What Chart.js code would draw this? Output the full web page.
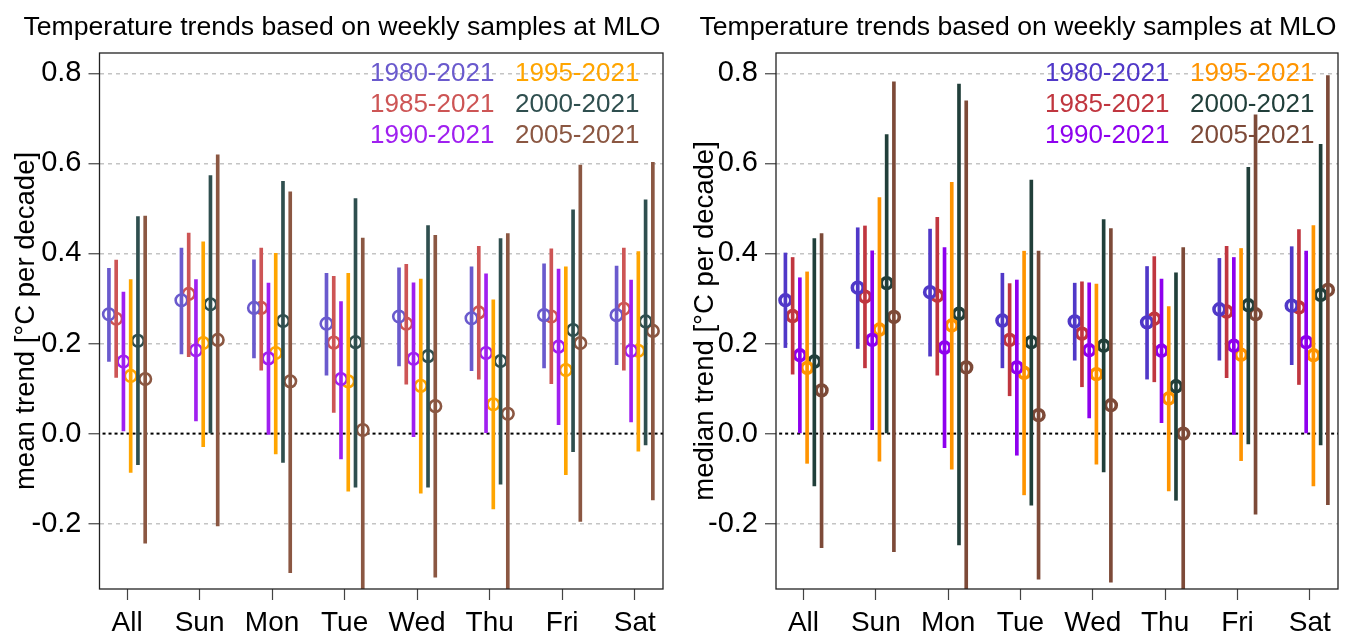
<!DOCTYPE html>
<html>
<head>
<meta charset="utf-8">
<script src="https://cdn.jsdelivr.net/npm/chart.js@4.4.0/dist/chart.umd.min.js"></script>
<style>
  body { margin: 0; background: #fff; }
  .panel { position: absolute; top: 0; height: 639px; }
</style>
</head>
<body>
<div class="panel" style="left:0;width:679px"><canvas id="meanChart"></canvas></div>
<div class="panel" style="left:679px;width:680px"><canvas id="medianChart"></canvas></div>
<script>
const days = ["All", "Sun", "Mon", "Tue", "Wed", "Thu", "Fri", "Sat"];
const periods = ["1980-2021", "1985-2021", "1990-2021", "1995-2021", "2000-2021", "2005-2021"];
const yTicks = [-0.2, 0.0, 0.2, 0.4, 0.6, 0.8];
const chartTitle = "Temperature trends based on weekly samples at MLO";

// one row per period, one value per day (All, Sun..Sat)
const meanTrend = [
  [0.265, 0.296, 0.279, 0.244, 0.260, 0.256, 0.263, 0.263],
  [0.255, 0.310, 0.279, 0.202, 0.244, 0.269, 0.260, 0.277],
  [0.160, 0.185, 0.167, 0.121, 0.166, 0.179, 0.193, 0.184],
  [0.128, 0.201, 0.179, 0.116, 0.106, 0.065, 0.141, 0.184],
  [0.206, 0.287, 0.250, 0.203, 0.172, 0.161, 0.230, 0.249],
  [0.121, 0.208, 0.116, 0.008, 0.061, 0.044, 0.201, 0.228]
];
const meanLow = [
  [0.160, 0.177, 0.168, 0.130, 0.150, 0.140, 0.146, 0.153],
  [0.125, 0.171, 0.141, 0.047, 0.110, 0.121, 0.111, 0.141],
  [0.006, 0.028, -0.002, -0.056, -0.007, 0.002, 0.020, 0.026],
  [-0.086, -0.029, -0.045, -0.128, -0.132, -0.167, -0.091, -0.039],
  [-0.069, 0.000, -0.064, -0.119, -0.119, -0.112, -0.040, -0.025],
  [-0.243, -0.205, -0.309, -0.400, -0.319, -0.400, -0.195, -0.147]
];
const meanHigh = [
  [0.367, 0.412, 0.386, 0.356, 0.368, 0.370, 0.377, 0.372],
  [0.385, 0.445, 0.412, 0.349, 0.376, 0.416, 0.410, 0.412],
  [0.314, 0.342, 0.334, 0.293, 0.335, 0.355, 0.365, 0.341],
  [0.342, 0.426, 0.400, 0.356, 0.343, 0.297, 0.370, 0.404],
  [0.482, 0.573, 0.560, 0.522, 0.462, 0.433, 0.497, 0.519],
  [0.483, 0.619, 0.537, 0.434, 0.440, 0.444, 0.596, 0.602]
];

const medianTrend = [
  [0.296, 0.324, 0.314, 0.251, 0.249, 0.247, 0.276, 0.284],
  [0.261, 0.304, 0.306, 0.208, 0.222, 0.255, 0.271, 0.280],
  [0.174, 0.208, 0.191, 0.147, 0.185, 0.184, 0.195, 0.203],
  [0.146, 0.231, 0.240, 0.135, 0.132, 0.078, 0.175, 0.174],
  [0.160, 0.334, 0.266, 0.203, 0.195, 0.105, 0.285, 0.308],
  [0.096, 0.259, 0.147, 0.041, 0.063, 0.000, 0.265, 0.319]
];
const medianLow = [
  [0.191, 0.189, 0.172, 0.146, 0.163, 0.121, 0.163, 0.153],
  [0.132, 0.146, 0.130, 0.084, 0.104, 0.115, 0.124, 0.109],
  [0.000, 0.009, -0.031, -0.048, 0.035, 0.024, -0.002, 0.000],
  [-0.066, -0.061, -0.079, -0.136, -0.068, -0.127, -0.060, -0.116],
  [-0.116, 0.000, -0.247, -0.159, -0.085, -0.148, -0.023, -0.025],
  [-0.253, -0.262, -0.400, -0.323, -0.330, -0.400, -0.179, -0.158]
];
const medianHigh = [
  [0.401, 0.457, 0.454, 0.356, 0.334, 0.371, 0.389, 0.415],
  [0.391, 0.461, 0.480, 0.333, 0.337, 0.393, 0.416, 0.453],
  [0.346, 0.406, 0.413, 0.341, 0.335, 0.343, 0.391, 0.405],
  [0.359, 0.524, 0.558, 0.405, 0.332, 0.282, 0.411, 0.462],
  [0.433, 0.664, 0.776, 0.563, 0.475, 0.357, 0.591, 0.642],
  [0.444, 0.781, 0.739, 0.405, 0.455, 0.413, 0.708, 0.795]
];

const meanColors = ["#6a5acd", "#cd5555", "#a020f0", "#ffa500", "#2f4f4f", "#8b5742"];
const medianColors = ["#5038c8", "#c0363f", "#8e00ee", "#ff9400", "#213f3a", "#7d4a38"];

const FONT = "'Liberation Sans', Arial, sans-serif";
Chart.defaults.font.family = FONT;
Chart.defaults.color = "#000";

// title over each panel + colored period names in the top right corner
const panelText = {
  id: "panelText",
  afterDraw(chart, args, opts) {
    const { ctx, chartArea } = chart;
    ctx.save();
    ctx.fillStyle = "#000";
    ctx.font = "26.6px " + FONT;
    ctx.textAlign = "center";
    ctx.textBaseline = "middle";
    ctx.fillText(chartTitle, opts.titleX, 28);

    ctx.font = "26px " + FONT;
    ctx.textAlign = "left";
    periods.forEach((txt, i) => {
      const col = Math.floor(i / 3), row = i % 3;
      ctx.fillStyle = opts.colors[i];
      ctx.fillText(txt, chartArea.right - (col ? 148 : 293), chartArea.top + 21 + row * 31);
    });
    ctx.restore();
  }
};

const boxBorder = {
  id: "boxBorder",
  afterDatasetsDraw(chart) {
    const { ctx, chartArea } = chart;
    ctx.save();
    ctx.strokeStyle = "#222";
    ctx.lineWidth = 1.3;
    ctx.strokeRect(chartArea.left, chartArea.top, chartArea.right - chartArea.left, chartArea.bottom - chartArea.top);
    ctx.restore();
  }
};

function makeChart(id, trend, low, high, colors, yLabel, yWidth, padRight, radius, ring, titleX) {
  const spread = [-0.25, -0.15, -0.05, 0.05, 0.15, 0.25];
  const datasets = [{
    type: "line",
    data: [{ x: 0, y: 0 }, { x: 10, y: 0 }],
    borderColor: "#000",
    borderWidth: 2,
    borderDash: [3, 3],
    pointRadius: 0,
    order: 3
  }];
  periods.forEach((p, k) => {
    datasets.push({
      type: "bar",
      label: p,
      data: days.map((d, i) => ({ x: i + 1 + spread[k], y: [low[k][i], high[k][i]] })),
      backgroundColor: colors[k],
      barThickness: 3,
      grouped: false,
      order: 1
    });
    datasets.push({
      type: "scatter",
      label: p,
      data: days.map((d, i) => ({ x: i + 1 + spread[k], y: trend[k][i] })),
      borderColor: colors[k],
      backgroundColor: "#fff",
      pointRadius: radius,
      borderWidth: ring,
      order: 2
    });
  });

  new Chart(document.getElementById(id), {
    type: "bar",
    data: { datasets: datasets },
    plugins: [panelText, boxBorder],
    options: {
      animation: false,
      responsive: true,
      maintainAspectRatio: false,
      devicePixelRatio: 1,
      layout: { padding: { left: 0, right: padRight, top: 53, bottom: 0 } },
      plugins: {
        legend: { display: false },
        tooltip: { enabled: false },
        title: { display: false },
        panelText: { colors: colors, titleX: titleX }
      },
      scales: {
        x: {
          type: "linear",
          min: 0.62,
          max: 8.39,
          offset: false,
          afterBuildTicks: (s) => { s.ticks = days.map((d, i) => ({ value: i + 1 })); },
          afterFit: (s) => { s.height = 50; },
          grid: { drawOnChartArea: false, offset: false, tickLength: 11, tickColor: "#444", tickWidth: 1.2 },
          border: { display: false },
          ticks: {
            font: { size: 28 },
            padding: 6,
            maxRotation: 0,
            autoSkip: false,
            callback: (v) => days[Math.round(v) - 1]
          }
        },
        y: {
          min: -0.345,
          max: 0.845,
          afterBuildTicks: (s) => { s.ticks = yTicks.map((v) => ({ value: v })); },
          afterFit: (s) => { s.width = yWidth; },
          grid: {
            color: (c) => (c.tick && Math.abs(c.tick.value) < 1e-9 ? "rgba(0,0,0,0)" : "#c4c4c4"),
            lineWidth: 1.5,
            tickLength: 11,
            tickColor: "#444",
            tickWidth: 1.2
          },
          border: { display: false, dash: [4, 4] },
          ticks: {
            font: { size: 29 },
            padding: 7,
            callback: (v) => v.toFixed(1)
          },
          title: {
            display: true,
            text: yLabel,
            font: { size: 27.5 },
            padding: { top: 10, bottom: 0 }
          }
        }
      }
    }
  });
}

makeChart("meanChart", meanTrend, meanLow, meanHigh, meanColors, "mean trend [°C per decade]", 99.5, 16, 5.8, 2.6, 342);
makeChart("medianChart", medianTrend, medianLow, medianHigh, medianColors, "median trend [°C per decade]", 97, 21, 5.4, 3.6, 339);
</script>
</body>
</html>
